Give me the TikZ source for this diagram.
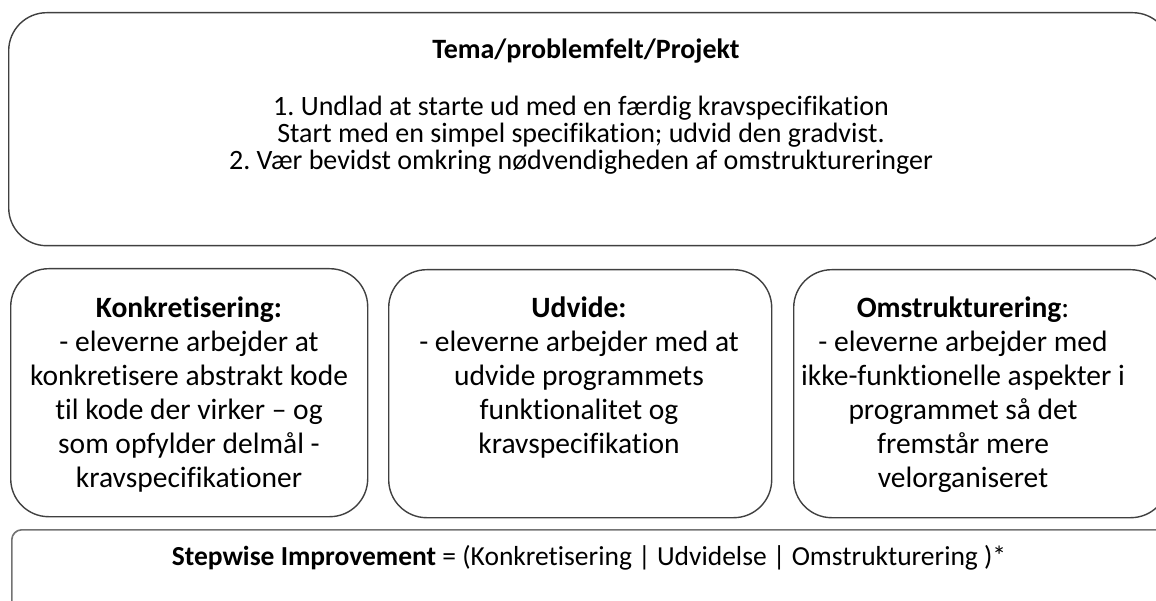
\documentclass[tikz,border=0pt]{standalone}
\usepackage{fontspec}
\setmainfont{Carlito}[Ligatures=NoCommon]
\frenchspacing
\begin{document}
\begin{tikzpicture}[x=1pt,y=-1pt,
  box/.style={draw=black!75, line width=1.4pt, rounded corners=38pt, anchor=north west, inner sep=0pt},
  barbox/.style={draw=black!55, line width=1.6pt, rounded corners=10pt, anchor=north west, inner sep=0pt},
  toptxt/.style={align=center, font=\fontsize{28}{27}\selectfont, inner sep=0pt, anchor=base},
  boxtxt/.style={align=center, font=\fontsize{29.5}{34}\selectfont, inner sep=0pt, anchor=base},
  bartxt/.style={font=\fontsize{27.5}{27}\selectfont, inner sep=0pt, anchor=base}]
\useasboundingbox (0,0) rectangle (1156,601);
\begin{scope}
\clip (0,0) rectangle (1156,601);
\node[box, minimum width=1162pt, minimum height=233pt] (top) at (8,12) {};
\node[box, minimum width=357pt, minimum height=248pt] (konk) at (10,268) {};
\node[box, minimum width=383pt, minimum height=248pt] (udv) at (388,269) {};
\node[box, minimum width=375pt, minimum height=248pt] (omst) at (793,269) {};
\node[barbox, minimum width=1170pt, minimum height=120pt] (bar) at (11,529) {};
\end{scope}
% anchor=base of a multi-line node is the baseline of its last line
\node[toptxt, font=\fontsize{28}{27}\selectfont\bfseries] (title) at (586,59) {Tema/problemfelt/Projekt};
\node[toptxt] (rules) at (581,170) {1. Undlad at starte ud med en færdig kravspecifikation\\Start med en simpel specifikation; udvid den gradvist.\\2. Vær bevidst omkring nødvendigheden af omstruktureringer};
\node[boxtxt] (konktxt) at (189,487) {\textbf{Konkretisering:}\\- eleverne arbejder at\\konkretisere abstrakt kode\\til kode der virker – og\\som opfylder delmål -\\kravspecifikationer};
\node[boxtxt] (udvtxt) at (579,453) {\textbf{Udvide:}\\- eleverne arbejder med at\\udvide programmets\\funktionalitet og\\kravspecifikation};
\node[boxtxt] (omsttxt) at (963,487) {\textbf{Omstrukturering}:\\- eleverne arbejder med\\ikke-funktionelle aspekter i\\programmet så det\\fremstår mere\\velorganiseret};
\node[bartxt] (bartext) at (589,565) {\textbf{Stepwise Improvement} = (Konkretisering | Udvidelse | Omstrukturering )*};
\end{tikzpicture}
\end{document}
